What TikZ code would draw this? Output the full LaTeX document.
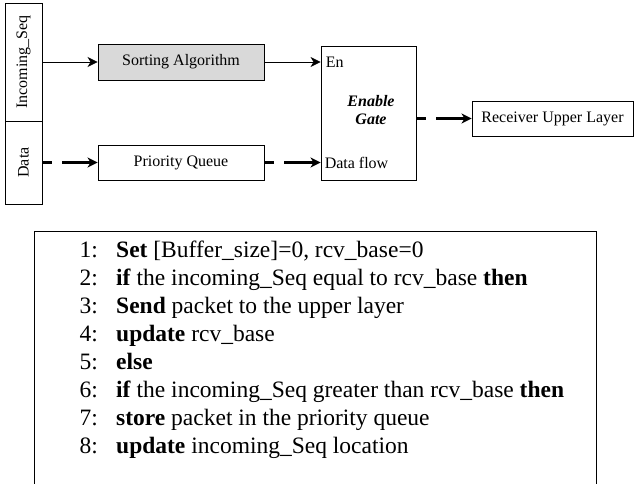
\documentclass[tikz,border=0pt]{standalone}
\usepackage{fontspec}
\setmainfont{Liberation Serif}
\usetikzlibrary{arrows.meta,positioning}
\definecolor{grisorden}{HTML}{D9D9D9}

\begin{document}
\begin{tikzpicture}[x=1pt,y=-1pt,every node/.style={font=\fontsize{16}{18}\selectfont},
  blk/.style={draw,line width=0.9pt,inner sep=0pt},
  ctl/.style={-{Stealth[length=10pt,width=10pt,inset=3pt]},line width=0.8pt},
  dat/.style={-{Stealth[length=10pt,width=10pt,inset=3pt]},line width=2.2pt,dash pattern=on 10pt off 10pt on 200pt},
  code/.style={font=\fontsize{23.5}{28}\selectfont,inner sep=0pt}]
        \useasboundingbox (0,0) rectangle (635,484);
        % diagram
        \node[blk,minimum width=37pt,minimum height=118pt] (seq) at (23.5,62) {\rotatebox{90}{Incoming\_Seq}};
        \node[blk,minimum width=37pt,minimum height=83pt] (data) at (23.5,162.5) {\rotatebox{90}{Data}};
        \node[blk,fill=grisorden,minimum width=166pt,minimum height=36pt] (sort) at (181,62) {Sorting Algorithm};
        \node[blk,minimum width=166pt,minimum height=35pt] (pq) at (181,162.5) {Priority Queue};
        \node[blk,minimum width=95pt,minimum height=134pt] (gate) at (368.5,113) {};
        \node[blk,minimum width=161pt,minimum height=35pt] (recv) at (552.5,118.5) {Receiver Upper Layer};
        \node[anchor=west,inner sep=0pt] (en) at ([xshift=5pt]gate.west |- sort) {En};
        \node[anchor=west,inner sep=0pt] (flow) at ([xshift=4pt]gate.west |- pq) {Data flow};
        \node[font=\fontsize{16}{18}\selectfont\bfseries\itshape,align=center] (gatelbl) at (371,110) {Enable\\Gate};
        \draw[ctl] (seq) -- (sort);
        \draw[dat] (data) -- (pq);
        \draw[ctl] (sort.east) -- (sort.east -| gate.west);
        \draw[dat] (pq.east) -- (pq.east -| gate.west);
        \draw[dat] (gate.east |- recv.west) -- (recv.west);
        % algorithm
        \draw[line width=0.9pt] (34,484) |- (596,231) -- (596,484);
        \foreach \i/\txt in {1/{\textbf{Set} [Buffer\_size]=0, rcv\_base=0},
                             2/{\textbf{if} the incoming\_Seq equal to rcv\_base \textbf{then}},
                             3/{\textbf{Send} packet to the upper layer},
                             4/{\textbf{update} rcv\_base},
                             5/{\textbf{else}},
                             6/{\textbf{if} the incoming\_Seq greater than rcv\_base \textbf{then}},
                             7/{\textbf{store} packet in the priority queue},
                             8/{\textbf{update} incoming\_Seq location}} {
          \node[code,anchor=base east] (num\i) at (98,{257+28*(\i-1)}) {\i:};
          \node[code,anchor=base west] (line\i) at (116,{257+28*(\i-1)}) {\txt};
        }
      \end{tikzpicture}
\end{document}
